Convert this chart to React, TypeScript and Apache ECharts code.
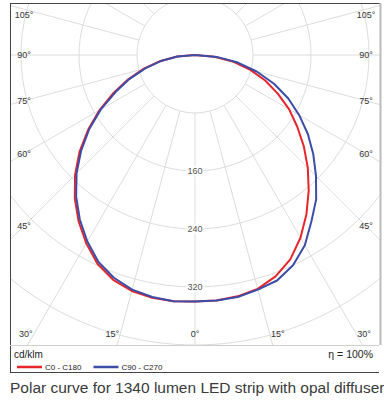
import React, { useEffect, useRef } from "react";
import * as echarts from "echarts";

// Angles from nadir (degrees) at which intensities were read
const angleDeg = [0, 5, 10, 15, 20, 25, 30, 35, 40, 45, 50, 55, 60, 65, 70, 75, 80, 85, 90];
// cd/klm (right half / left half of each plane)
const c0Half = [340, 340, 338, 334, 325, 311, 291, 268, 244, 220, 196, 172, 150, 126, 103, 79, 54, 27, 0];
const c180Half = [341, 341, 340, 337, 330, 318, 300, 280, 258, 234, 208, 180, 152, 124, 98, 73, 49, 25, 0];
const c90Half = [340, 340, 339, 335, 331, 320, 303, 280, 260, 236, 213, 190, 166, 142, 116, 88, 60, 30, 0];
const c270Half = [341, 341, 339, 335, 327, 315, 297, 277, 255, 231, 205, 178, 150, 121, 96, 71, 48, 24, 0];

const radialTickLabels = [160, 240, 320];
const angleTickLabels = [0, 15, 30, 45, 60, 75, 90, 105];
const seriesNames = ["C0 - C180", "C90 - C270"];
const seriesColors = ["#e8252b", "#3b4da6"];
const unitLabel = "cd/klm";
const efficiencyLabel = "η = 100%";
const caption = "Polar curve for 1340 lumen LED strip with opal diffuser";

const FONT = "'Liberation Sans', Arial, Helvetica, sans-serif";
const CX = 195;
const CY = 55;
const R_OUT = 348; // pixel radius for 480
const PLOT = { left: 10, top: 3, right: 380, bottom: 345, frameBottom: 372 };

function buildCurve(rightHalf: number[], leftHalf: number[]) {
  const pts: [number, number][] = [];
  for (let i = angleDeg.length - 1; i >= 1; i--) pts.push([rightHalf[i], 360 - angleDeg[i]]);
  pts.push([rightHalf[0], 0]);
  for (let i = 1; i < angleDeg.length; i++) pts.push([leftHalf[i], angleDeg[i]]);
  return pts;
}

function angleLabelGraphics() {
  const out: any[] = [];
  const inset = 171;
  const bottomY = 334;
  const topY = 15;
  angleTickLabels.forEach((a) => {
    const sides = a === 0 ? [0] : [-1, 1];
    sides.forEach((side) => {
      const rad = (a * Math.PI) / 180;
      const dx = side * Math.sin(rad);
      const dy = Math.cos(rad);
      const tx = Math.abs(dx) > 1e-6 ? inset / Math.abs(dx) : Infinity;
      const ty = dy > 1e-6 ? (bottomY - CY) / dy : Infinity;
      let x: number, y: number;
      if (tx <= ty) {
        x = CX + dx * tx;
        y = Math.max(topY, CY + dy * tx);
      } else {
        x = CX + dx * ty + side * 8;
        y = bottomY;
      }
      out.push({
        type: "text",
        x,
        y,
        z: 120,
        style: {
          text: a + "°",
          fill: "#333",
          font: `9px ${FONT}`,
          align: "center",
          verticalAlign: "middle",
        },
      });
    });
  });
  return out;
}

export default function App() {
  const ref = useRef<HTMLDivElement>(null);
  useEffect(() => {
    if (!ref.current) return;
    const chart = echarts.init(ref.current, undefined, { renderer: "svg" });
    const redData = buildCurve(c0Half, c180Half);
    const blueData = buildCurve(c90Half, c270Half);
    const gridColor = "#dddddd";
    const lineZ = 110;
    const option: any = {
      animation: false,
      backgroundColor: "#fff",
      polar: [
        { center: [CX, CY], radius: [58, R_OUT] },
        { center: [CX, CY], radius: [0, R_OUT] },
      ],
      angleAxis: [
        {
          polarIndex: 0,
          type: "value",
          min: 0,
          max: 360,
          interval: 15,
          startAngle: 270,
          clockwise: true,
          axisLine: { show: false },
          axisTick: { show: false },
          axisLabel: { show: false },
          splitLine: { show: true, lineStyle: { color: gridColor, width: 1 } },
        },
        {
          polarIndex: 1,
          type: "value",
          min: 0,
          max: 360,
          startAngle: 270,
          clockwise: true,
          show: false,
        },
      ],
      radiusAxis: [
        {
          polarIndex: 0,
          type: "value",
          min: 80,
          max: 480,
          interval: 80,
          axisLine: { show: false },
          axisTick: { show: false },
          axisLabel: { show: false },
          splitLine: { show: true, lineStyle: { color: gridColor, width: 1 } },
        },
        { polarIndex: 1, type: "value", min: 0, max: 480, show: false },
      ],
      legend: {
        left: 12,
        top: 358,
        icon: "rect",
        itemWidth: 25,
        itemHeight: 2.5,
        itemGap: 12,
        selectedMode: false,
        data: seriesNames,
        textStyle: { fontSize: 8, color: "#222", fontFamily: FONT, padding: [0, 0, 0, -2] },
        z: 130,
      },
      series: [
        {
          type: "scatter",
          coordinateSystem: "polar",
          polarIndex: 1,
          data: radialTickLabels.map((v) => [v, 0]),
          symbolSize: 1,
          itemStyle: { color: "transparent" },
          silent: true,
          z: 1,
          label: {
            show: true,
            position: "inside",
            formatter: (p: any) => String(p.value[0]),
            color: "#222",
            fontSize: 9,
            fontFamily: FONT,
            backgroundColor: "#fff",
            padding: [1, 1],
          },
        },
        {
          type: "line",
          name: seriesNames[0],
          coordinateSystem: "polar",
          polarIndex: 1,
          data: redData,
          showSymbol: false,
          symbol: "none",
          smooth: false,
          color: seriesColors[0],
          lineStyle: { color: seriesColors[0], width: 2, join: "round" },
          z: 3,
        },
        {
          type: "line",
          name: seriesNames[1],
          coordinateSystem: "polar",
          polarIndex: 1,
          data: blueData,
          showSymbol: false,
          symbol: "none",
          smooth: false,
          color: seriesColors[1],
          lineStyle: { color: seriesColors[1], width: 2, join: "round" },
          z: 4,
        },
      ],
      graphic: [
        // masks outside the plot rectangle
        { type: "rect", z: 100, shape: { x: 0, y: 0, width: 384, height: PLOT.top }, style: { fill: "#fff" } },
        { type: "rect", z: 100, shape: { x: 0, y: 0, width: PLOT.left, height: 401 }, style: { fill: "#fff" } },
        { type: "rect", z: 100, shape: { x: PLOT.right, y: 0, width: 384 - PLOT.right, height: 401 }, style: { fill: "#fff" } },
        { type: "rect", z: 100, shape: { x: 0, y: PLOT.bottom, width: 384, height: 401 - PLOT.bottom }, style: { fill: "#fff" } },
        // frame
        { type: "line", z: lineZ, shape: { x1: PLOT.left, y1: PLOT.top + 0.5, x2: PLOT.right + 1, y2: PLOT.top + 0.5 }, style: { stroke: "#444", lineWidth: 1 } },
        { type: "line", z: lineZ, shape: { x1: PLOT.left + 0.5, y1: PLOT.top, x2: PLOT.left + 0.5, y2: PLOT.frameBottom + 1 }, style: { stroke: "#444", lineWidth: 1 } },
        { type: "line", z: lineZ, shape: { x1: PLOT.left, y1: PLOT.frameBottom + 0.5, x2: PLOT.right - 1, y2: PLOT.frameBottom + 0.5 }, style: { stroke: "#444", lineWidth: 1 } },
        { type: "line", z: lineZ, shape: { x1: PLOT.right + 0.5, y1: PLOT.top, x2: PLOT.right + 0.5, y2: PLOT.bottom }, style: { stroke: "#bbb", lineWidth: 2 } },
        { type: "line", z: lineZ, shape: { x1: PLOT.left, y1: PLOT.bottom + 0.5, x2: PLOT.right - 1, y2: PLOT.bottom + 0.5 }, style: { stroke: "#cfcfcf", lineWidth: 1 } },
        ...angleLabelGraphics(),
        {
          type: "text",
          x: 14,
          y: 354,
          z: 120,
          style: { text: unitLabel, fill: "#222", font: `10px ${FONT}`, align: "left", verticalAlign: "middle" },
        },
        {
          type: "text",
          x: 373,
          y: 354,
          z: 120,
          style: { text: efficiencyLabel, fill: "#222", font: `10.5px ${FONT}`, align: "right", verticalAlign: "middle" },
        },
        {
          type: "text",
          x: 10,
          y: 387,
          z: 120,
          style: { text: caption, fill: "#3a3a3a", font: `15.5px ${FONT}`, align: "left", verticalAlign: "middle" },
        },
      ],
    };
    chart.setOption(option);
    return () => chart.dispose();
  }, []);
  return (
    <div
      ref={ref}
      style={{ position: "absolute", left: 0, top: 0, width: 384, height: 401, overflow: "hidden" }}
    />
  );
}
